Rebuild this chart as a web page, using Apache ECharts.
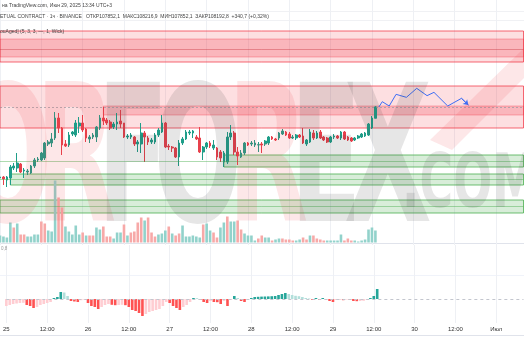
<!DOCTYPE html>
<html><head><meta charset="utf-8">
<script src="https://cdn.jsdelivr.net/npm/echarts@6.0.0/dist/echarts.min.js"></script>
<style>html,body{margin:0;padding:0;background:#fff}#c{width:524px;height:350px}</style>
</head><body><div id="c"></div><script>
// ---------- DATA ----------
const dayNames = ['25','26','27','28','29','30','Июл 1'];
const tickLabels = ['25','12:00','26','12:00','27','12:00','28','12:00','29','12:00','30','12:00','Июл'];
const hourCount = 153;
// hourly candles [open, close, low, high], from 25 Jun 00:00
const candles = [
[106060,106090,105970,106120],[106090,106030,105850,106120],[106000,106090,105790,106120],[106060,106390,105850,106450],
[106360,106420,106300,106510],[106360,106510,106240,106810],[106480,106240,106210,106510],[106270,106300,106060,106360],
[106240,106270,106150,106330],[106210,106420,106180,106450],[106420,106600,106360,106660],[106600,106630,106540,106690],
[106600,106810,106570,106840],[106660,107110,106600,107140],[107080,107140,107020,107200],[107110,107230,106990,107410],
[107260,107860,107200,108040],[107860,107560,107410,108010],[107560,107050,106750,107590],[107080,107020,106990,107200],
[107050,107350,106990,107440],[107380,107440,107320,107470],[107350,107710,107290,107800],[107620,107710,107410,107890],
[107710,107500,107440,107950],[107530,107260,107140,107560],[107230,107290,107110,107350],[107290,107350,107230,107410],
[107290,107590,107140,107620],[107560,107860,107500,107950],[107860,107770,107650,108190],[107800,107710,107650,107860],
[107740,107560,107500,107800],[107590,107680,107530,107740],[107680,107740,107500,108010],[107770,107680,107560,108100],
[107710,107290,107260,107710],[107290,107320,107230,107380],[107290,107350,107230,107410],[107290,107080,107020,107320],
[107080,107140,106840,107200],[107080,107410,106810,107710],[107410,107290,106540,107470],[107260,107140,107050,107320],
[107140,107200,107080,107260],[107140,107350,107080,107410],[107350,107500,107290,107560],[107440,107710,107410,107950],
[107710,106990,106960,107740],[107020,106990,106900,107080],[106990,106960,106840,107020],[106960,106690,106660,106990],
[106690,107110,106420,107200],[107110,107230,107050,107290],[107230,107440,107200,107500],[107410,107440,107350,107500],
[107410,107470,107260,107500],[107290,107230,107200,107350],[107260,106840,106810,107590],[106840,106990,106600,107020],
[106990,107110,106930,107140],[107110,107020,106960,107170],[106960,107050,106900,107200],[106960,106690,106600,106990],
[106840,106660,106540,106900],[106540,106810,106390,106870],[106540,107290,106480,107440],[107290,107410,107200,107650],
[107410,106840,106750,107470],[106840,106720,106450,106990],[106690,106810,106660,106900],[106810,107110,106750,107140],
[107110,107050,107020,107140],[107080,107110,107020,107170],[107050,107110,106990,107200],[107050,107060,106840,107140],
[107080,107050,106810,107140],[107080,107170,107020,107200],[107110,107290,107050,107320],[107290,107230,107200,107320],
[107230,107200,107170,107260],[107260,107410,107200,107440],[107380,107470,107350,107530],[107440,107350,107320,107470],
[107380,107260,107230,107440],[107260,107290,107230,107350],[107260,107350,107200,107380],[107350,107290,107260,107380],
[107320,107110,107080,107560],[107080,107200,107020,107230],[107140,107440,107110,107530],[107410,107260,107200,107500],
[107260,107410,107230,107470],[107440,107260,107230,107500],[107290,107200,107170,107320],[107260,107140,107110,107290],
[107140,107290,107110,107320],[107290,107320,107230,107380],[107320,107260,107230,107350],[107260,107440,107200,107470],
[107440,107230,107200,107470],[107290,107200,107170,107320],[107260,107170,107140,107290],[107200,107260,107170,107290],
[107260,107320,107230,107350],[107290,107380,107260,107410],[107320,107410,107290,107440],[107350,107680,107320,107710],
[107560,107860,107530,107920],[107852.1,108192.8,107852.1,108216.9]
];
const volumes = [
700,600,500,2000,1500,1900,800,800,600,600, 800,800,2100,1900,1200,1100,6200,4500,3500,1600,
1100,800,1700,800,1000,700,700,700,1500,1300, 1600,600,600,400,1000,1000,1800,700,1000,1100,
2000,2500,2200,2500,1000,600,800,900,1200,1600, 900,700,900,1700,600,600,700,600,500,1800,
1900,1200,1000,500,1500,2000,2600,2100,2100,2200, 1300,900,700,700,200,400,700,
500,500,200,300,400,400,300,300,200,200, 300,500,300,700,700,400,300,200,200,200,
200,200,800,200,400,200,200,100,200,300, 1300,1500,1200
];
const volumeUp = [
1,1,1,1,0,1,0,0,1,1, 1,1,0,0,1,1,1,0,0,1, 1,1,1,1,0,1,0,0,1,1, 0,0,0,1,1,1,0,1,0,0,
0,0,1,0,0,0,1,1,1,0, 1,0,0,1,1,1,1,1,1,0, 1,1,0,0,1,1,0,1,1,0, 0,1,1,1,1,0,0,
1,1,0,1,1,0,0,0,0,1, 1,0,0,1,0,0,0,0,1,1, 1,1,1,0,0,0,1,1,1,1, 1,1,1
];
const macdHist = [
-70,-60,-50,-45,-40,-38,-60,-70,-90,-80, -60,-50,-40,-30,10,20,70,65,30,-20,
-25,-30,-12,-8,-40,-70,-80,-100,-80,-60, -50,-58,-62,-60,-58,-62,-80,-110,-120,-140,
-170,-150,-130,-120,-110,-100,-70,-30,-40,-70, -90,-110,-80,-60,-30,10,8,-10,-30,-40,
-20,-30,-32,-50,-20,-70,-10,30,10,-20, -30,-10,10,20,22,24,25,26,28,30,
40,50,60,50,40,32,28,20,10,5, -10,10,-8,10,-5,-20,-30,-10,-8,-12,
-5,-10,-20,-22,-20,-18,-10,10,30,100
];
const lastPrice = 108192.8;
const projHours  = [110,111,113,115,118,121,124,126,130,134,136];
const projPrices = [108190,108350,108220,108570,108480,108750,108530,108630,108220,108450,108250];
// zones: [startHour, top, bottom]
const redOuter   = [[0,110470,109540],[0,108820,107560]];
const redInner   = [[0,110230,109690],[30,108220,107950]];
const redLines   = [109930];
const greenZones = [[65,106750,106390],[3,106180,105850],[0,105400,105010]];
const greenLines = [106570,106010,105220];

// ---------- BUILD ----------
const categories = [];
for (let i = 0; i < hourCount; i++) {
  const d = Math.floor(i / 24), hh = i % 24;
  categories.push(dayNames[d] + ' ' + String(hh).padStart(2,'0') + ':00');
}
const UP = '#1f9e89', DN = '#e8414c';
const lastCat = categories[hourCount - 1];
function rect(z, fill, border) {
  return [{xAxis: categories[z[0]], yAxis: z[1], itemStyle: {color: fill, borderColor: border, borderWidth: 1}},
          {xAxis: lastCat, yAxis: z[2]}];
}
const areas = []
  .concat(redOuter.map(z => rect(z, 'rgba(242,54,69,0.16)', 'rgba(242,54,69,0.75)')))
  .concat(redInner.map(z => rect(z, 'rgba(242,54,69,0.24)', 'rgba(242,54,69,0.35)')))
  .concat(greenZones.map(z => rect(z, 'rgba(76,175,80,0.22)', 'rgba(76,175,80,0.8)')));

const macdColors = macdHist.map((v, i) => {
  const p = i > 0 ? macdHist[i-1] : v;
  if (v >= 0) return v > p || i === 0 ? '#26a69a' : '#b2dfdb';
  return v < p ? '#ff5252' : '#ffcdd2';
});

const splitInterval = (i) => i % 12 === 0;
const gridLine = {show: true, interval: splitInterval, lineStyle: {color: '#eef0f4', width: 1}};

const wmGrey = 'rgba(60,60,60,0.13)', wmPink = 'rgba(242,54,69,0.12)';
function letter(ch, cx, fill, size, cy, sx) {
  return {type: 'text', x: cx, y: cy, scaleX: sx, z: 50, silent: true,
    style: {text: ch, x: 0, y: 0, textAlign: 'center', textVerticalAlign: 'middle',
      font: 'bold ' + size + 'px "DejaVu Sans"', fill: fill}};
}
const headFont = '5px "Liberation Sans"';
const option = {
  animation: false,
  backgroundColor: '#ffffff',
  grid: [
    {left: 0, width: 523.5, top: 0, height: 245},
    {left: 0, width: 523.5, top: 177.5, height: 65},
    {left: 0, width: 523.5, top: 245, height: 78}
  ],
  xAxis: [
    {type: 'category', gridIndex: 0, data: categories, boundaryGap: false,
     axisLine: {show: false}, axisTick: {show: false}, axisLabel: {show: false}, splitLine: gridLine},
    {type: 'category', gridIndex: 1, data: categories, boundaryGap: false, show: false},
    {type: 'category', gridIndex: 2, data: categories, boundaryGap: false,
     axisLine: {show: false}, axisTick: {show: false}, splitLine: gridLine,
     axisLabel: {interval: splitInterval, formatter: (v, i) => tickLabels[i / 12],
       fontSize: 6, color: '#333', margin: 3, fontFamily: 'Liberation Sans'}}
  ],
  yAxis: [
    {type: 'value', gridIndex: 0, min: 104050, max: 111400, show: false, splitLine: {show: false}},
    {type: 'value', gridIndex: 1, min: 0, max: 6500, show: false, splitLine: {show: false}},
    {type: 'value', gridIndex: 2, min: -240, max: 540, show: false, splitLine: {show: false}}
  ],
  series: [
    {type: 'candlestick', xAxisIndex: 0, yAxisIndex: 0, data: candles, barWidth: 2.2,
     itemStyle: {color: UP, color0: DN, borderColor: UP, borderColor0: DN, borderWidth: 1},
     markArea: {silent: true, data: areas},
     markLine: {silent: true, symbol: 'none', label: {show: false},
       data: [{yAxis: lastPrice, lineStyle: {color: '#9598a1', type: [2, 2], width: 1, opacity: 0.7}}]
         .concat(redLines.map(v => ({yAxis: v, lineStyle: {color: 'rgba(200,50,60,0.4)', type: 'solid', width: 1}})))
         .concat(greenLines.map(v => ({yAxis: v, lineStyle: {color: 'rgba(76,175,80,0.45)', type: 'solid', width: 1}})))}
    },
    {type: 'line', xAxisIndex: 0, yAxisIndex: 0, data: projHours.map((h, i) => [h, projPrices[i]]),
     showSymbol: false, lineStyle: {color: '#3d6ef5', width: 1}, z: 5,
     markLine: {silent: true, symbol: ['none', 'arrow'], symbolSize: 5, label: {show: false},
       lineStyle: {color: '#3d6ef5', width: 1, type: 'solid'},
       data: [[{coord: [projHours[projHours.length-2], projPrices[projPrices.length-2]]},
               {coord: [projHours[projHours.length-1], projPrices[projPrices.length-1]]}]]}
    },
    {type: 'bar', xAxisIndex: 1, yAxisIndex: 1, barWidth: 2.6,
     data: volumes.map((v, i) => ({value: v, itemStyle: {color: volumeUp[i] ? '#92d2cb' : '#f7a9a8'}}))},
    {type: 'bar', xAxisIndex: 2, yAxisIndex: 2, barWidth: 2.6,
     data: macdHist.map((v, i) => ({value: v, itemStyle: {color: macdColors[i]}})),
     markLine: {silent: true, symbol: 'none', label: {show: false},
       data: [{yAxis: 0, lineStyle: {color: '#c3c6ce', type: [3, 3], width: 1}}]}}
  ],
  graphic: [
    {type: 'line', shape: {x1: 0, y1: 243.5, x2: 524, y2: 243.5}, style: {stroke: '#e0e3eb', lineWidth: 1}, silent: true},
    {type: 'line', shape: {x1: 0, y1: 275.5, x2: 524, y2: 275.5}, style: {stroke: '#f0f3fa', lineWidth: 1}, silent: true},
    {type: 'line', shape: {x1: 0, y1: 335.5, x2: 524, y2: 335.5}, style: {stroke: '#e0e3eb', lineWidth: 1}, silent: true},
    {type: 'line', shape: {x1: 0, y1: 11.5, x2: 524, y2: 11.5}, style: {stroke: '#f0f1f4', lineWidth: 1}, silent: true},
    {type: 'line', shape: {x1: 0, y1: 20.5, x2: 524, y2: 20.5}, style: {stroke: '#f0f1f4', lineWidth: 1}, silent: true},
    letter('O', 8, wmPink, 190, 172, 0.55),
    letter('R', 76, wmPink, 190, 172, 0.55),
    letter('F', 133, wmGrey, 190, 172, 0.55),
    letter('O', 198, wmGrey, 190, 172, 0.55),
    letter('R', 268, wmPink, 190, 172, 0.55),
    letter('E', 326, wmGrey, 190, 172, 0.55),
    letter('X', 388, wmGrey, 190, 172, 0.6),
    letter('.COM', 470, wmGrey, 74, 188, 0.62),
    {type: 'polygon', z: 50, silent: true, shape: {points: [[430,140],[524,48],[524,78],[452,150]]}, style: {fill: wmPink}},
    {type: 'text', x: 2, y: 6, z: 60, silent: true, style: {text: 'на TradingView.com, Июн 29, 2025 13:34 UTC+3', font: headFont, fill: '#444', textVerticalAlign: 'middle'}},
    {type: 'text', x: 0, y: 17, z: 60, silent: true, style: {text: 'ETUAL CONTRACT · 1ч · BINANCE   ОТКР107852,1  МАКС108216,9  МИН107852,1  ЗАКР108192,8  +340,7 (+0,32%)', font: headFont, fill: '#444', textVerticalAlign: 'middle'}},
    {type: 'text', x: 0, y: 32, z: 60, silent: true, style: {text: 'ouAged] (5, 3, 3, —, 1, Wick)', font: headFont, fill: '#444', textVerticalAlign: 'middle'}},
    {type: 'text', x: 1, y: 249, z: 60, silent: true, style: {text: '0,8', font: '4.5px "Liberation Sans"', fill: '#999', textVerticalAlign: 'middle'}}
  ]
};
const chart = echarts.init(document.getElementById('c'), null, {renderer: 'canvas'});
chart.setOption(option);
</script></body></html>
